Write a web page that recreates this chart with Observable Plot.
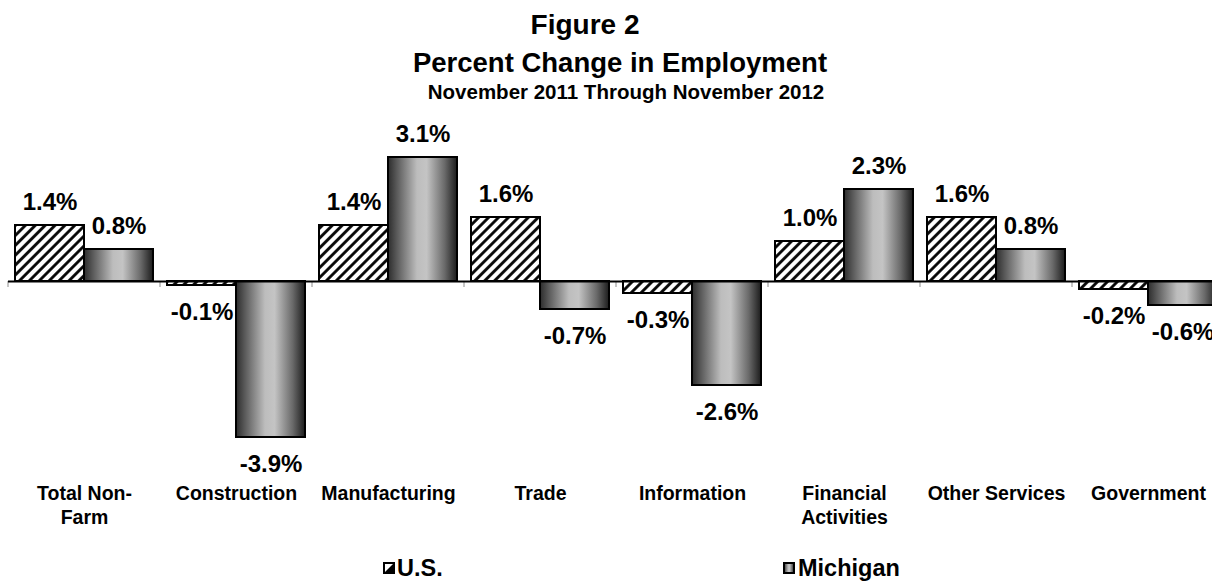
<!DOCTYPE html>
<html>
<head>
<meta charset="utf-8">
<script src="https://cdn.jsdelivr.net/npm/d3@7"></script>
<script src="https://cdn.jsdelivr.net/npm/@observablehq/plot@0.6"></script>
<style>
  html, body { margin: 0; padding: 0; background: #fff; overflow: hidden; }
  #wrap { position: relative; width: 1212px; height: 583px; font-family: "Liberation Sans", Arial, sans-serif; font-weight: bold; color: #000; }
  .t { position: absolute; white-space: nowrap; line-height: 1; }
  .c { transform: translateX(-50%); }
  #chart { position: absolute; left: 0; top: 110px; }
  .sw { position: absolute; }
</style>
</head>
<body>
<svg width="0" height="0" style="position:absolute">
  <defs>
    <pattern id="hatch" patternUnits="userSpaceOnUse" width="7" height="7" patternTransform="rotate(45)">
      <rect width="7" height="7" fill="#fff"></rect>
      <line x1="1.5" y1="0" x2="1.5" y2="7" stroke="#000" stroke-width="2.8"></line>
    </pattern>
    <linearGradient id="grad" x1="0" x2="1" y1="0" y2="0">
      <stop offset="0" stop-color="#2c2c2c"></stop>
      <stop offset="0.12" stop-color="#575757"></stop>
      <stop offset="0.42" stop-color="#bdbdbd"></stop>
      <stop offset="0.56" stop-color="#c4c4c4"></stop>
      <stop offset="0.82" stop-color="#6a6a6a"></stop>
      <stop offset="1" stop-color="#1c1c1c"></stop>
    </linearGradient>
  </defs>
</svg>
<div id="wrap">
  <div class="t c" id="title1" style="left:585px; top:11px; font-size:28px;">Figure 2</div>
  <div class="t c" id="title2" style="left:620px; top:49px; font-size:27.5px;">Percent Change in Employment</div>
  <div class="t c" id="title3" style="left:626px; top:82px; font-size:20.5px;">November 2011 Through November 2012</div>
  <div id="chart"></div>
  <svg class="sw" style="left:383px; top:562px;" width="12" height="12">
    <rect x="1" y="1" width="10" height="10" fill="#fff" stroke="#000" stroke-width="2"></rect>
    <polygon points="11,1 11,11 1,11" fill="#000"></polygon>
  </svg>
  <div class="t" style="left:397px; top:557px; font-size:23.5px;" id="leg1"></div>
  <svg class="sw" style="left:783px; top:562px;" width="12" height="12">
    <rect x="1" y="1" width="10" height="10" fill="url(#grad)" stroke="#000" stroke-width="2"></rect>
  </svg>
  <div class="t" style="left:798px; top:557px; font-size:23.5px;" id="leg2"></div>
</div>
<script>
// ---- data ----
const categories = ["Total Non-Farm", "Construction", "Manufacturing", "Trade", "Information", "Financial Activities", "Other Services", "Government"];
const categoryLabels = ["Total Non-\nFarm", "Construction", "Manufacturing", "Trade", "Information", "Financial\nActivities", "Other Services", "Government"];
const seriesNames = ["U.S.", "Michigan"];
const usValues = [1.4, -0.1, 1.4, 1.6, -0.3, 1.0, 1.6, -0.2];
const miValues = [0.8, -3.9, 3.1, -0.7, -2.6, 2.3, 0.8, -0.6];

document.getElementById("leg1").textContent = seriesNames[0];
document.getElementById("leg2").textContent = seriesNames[1];

const rows = categories.flatMap((c, i) => [
  {category: c, series: seriesNames[0], value: usValues[i]},
  {category: c, series: seriesNames[1], value: miValues[i]}
]);
const us = rows.filter(d => d.series === seriesNames[0]);
const mi = rows.filter(d => d.series === seriesNames[1]);

// ---- style constants ----
const gap = 7, barW = 69;            // bar inset within each category band
const half = barW / 2;               // label offset from band centre
const fmt = d => d.toFixed(1) + "%"; // plain hyphen-minus as in the original
const font = '"Liberation Sans", Arial, sans-serif';

function boundaryTicks(index, scales, values, dims) {
  const x = scales.x, y = scales.y;
  const bw = x.bandwidth ? x.bandwidth() : 0;
  const edges = categories.map(c => x(c));
  edges.push(x(categories[categories.length - 1]) + bw);
  const g = d3.create("svg:g").attr("stroke", "#8c8c8c").attr("stroke-width", 1);
  g.selectAll("line").data(edges).join("line")
    .attr("x1", d => d).attr("x2", d => d)
    .attr("y1", y(0)).attr("y2", y(0) + 6);
  return g.node();
}

const labelOpts = {x: "category", y: "value", text: d => fmt(d.value), fontSize: 24, fontWeight: "bold", fill: "black"};

const chart = Plot.plot({
  width: 1212,
  height: 430,
  marginTop: 11,
  marginBottom: 59,
  marginLeft: 8,
  marginRight: 0,
  style: {fontFamily: font, background: "white", color: "black"},
  x: {domain: categories, range: [8, 1224], padding: 0, axis: null, label: null},
  y: {domain: [-5, 4], axis: null, label: null},
  marks: [
    boundaryTicks,
    Plot.barY(us, {x: "category", y: "value", fill: "url(#hatch)", stroke: "black", strokeWidth: 2, insetLeft: gap, insetRight: gap + barW}),
    Plot.barY(mi, {x: "category", y: "value", fill: "url(#grad)", stroke: "black", strokeWidth: 2, insetLeft: gap + barW, insetRight: gap}),
    Plot.ruleY([0], {stroke: "black", strokeWidth: 2}),
    Plot.text(us.filter(d => d.value >= 0), {...labelOpts, dx: -half, dy: -16, lineAnchor: "bottom"}),
    Plot.text(us.filter(d => d.value < 0), {...labelOpts, dx: -half, dy: 17, lineAnchor: "top"}),
    Plot.text(mi.filter(d => d.value >= 0), {...labelOpts, dx: half, dy: -16, lineAnchor: "bottom"}),
    Plot.text(mi.filter(d => d.value < 0), {...labelOpts, dx: half, dy: 17, lineAnchor: "top"}),
    Plot.axisX({anchor: "bottom", label: null, tickSize: 0, tickPadding: 1, fontSize: 19.5, fontWeight: "bold", fill: "black", lineHeight: 1.25, tickFormat: d => categoryLabels[categories.indexOf(d)]})
  ]
});
document.getElementById("chart").appendChild(chart);
</script>
</body>
</html>
